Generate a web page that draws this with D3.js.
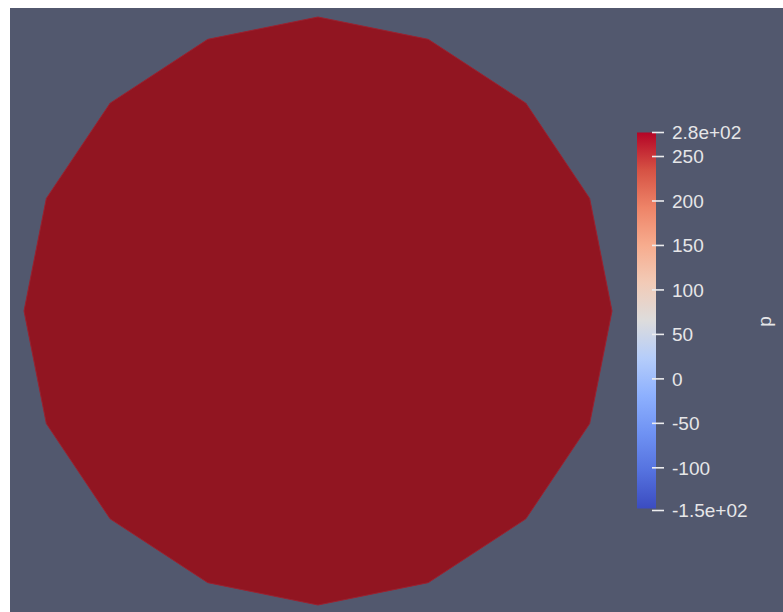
<!DOCTYPE html>
<html>
<head>
<meta charset="utf-8">
<script src="https://cdn.jsdelivr.net/npm/d3@7"></script>
<style>
  html, body { margin: 0; padding: 0; background: #ffffff; }
  svg { display: block; }
  .cb-label { font-family: "Liberation Sans", Arial, sans-serif; font-size: 19px; fill: #e6e6e8; }
</style>
</head>
<body>
<div id="chart"></div>
<script>
// mesh outline of the disc (16 segments), model units
var meshX = [0, 0.375, 0.707, 0.924, 1, 0.924, 0.707, 0.375, 0, -0.375, -0.707, -0.924, -1, -0.924, -0.707, -0.375];
var meshY = [1, 0.924, 0.707, 0.383, 0, -0.383, -0.707, -0.924, -1, -0.924, -0.707, -0.383, 0, 0.383, 0.707, 0.924];

// scalar range of p
var pMin = -148;
var pMax = 277;
var pTicks = [-100, -50, 0, 50, 100, 150, 200, 250];
var endLabels = ["-1.5e+02", "2.8e+02"];
var fieldName = "p";

// Cool to Warm colour map stops
var cmapPos = [0, 0.1, 0.2, 0.3, 0.4, 0.5, 0.6, 0.7, 0.8, 0.9, 1];
var cmapCol = ["#3b4cc0", "#5572df", "#6f92f3", "#8db0fe", "#b5cdfa", "#dddcdc", "#f2cbb7", "#f7ac8e", "#ee8468", "#d65244", "#b40426"];

var W = 783, H = 612;
var svg = d3.select("#chart").append("svg")
  .attr("width", W).attr("height", H);

// render viewport
svg.append("rect")
  .attr("x", 10).attr("y", 8)
  .attr("width", W - 10).attr("height", H - 8)
  .attr("fill", "#52586e");

var x = d3.scaleLinear().domain([-1, 1]).range([24, 612]);
var y = d3.scaleLinear().domain([-1, 1]).range([605, 17]);

var pts = meshX.map(function(d, i) { return [x(d), y(meshY[i])]; });

svg.append("polygon")
  .attr("points", pts.map(function(p) { return p.join(","); }).join(" "))
  .attr("fill", "#911521")
  .attr("stroke", "#9a2230")
  .attr("stroke-width", 1);

// colour legend
var barX = 637, barW = 19;
var cy = d3.scaleLinear().domain([pMin, pMax]).range([510.5, 132.5]);

var defs = svg.append("defs");
var grad = defs.append("linearGradient")
  .attr("id", "cmap")
  .attr("x1", 0).attr("y1", 1).attr("x2", 0).attr("y2", 0);
grad.selectAll("stop")
  .data(cmapPos)
  .enter().append("stop")
  .attr("offset", function(d) { return d; })
  .attr("stop-color", function(d, i) { return cmapCol[i]; });

svg.append("rect")
  .attr("x", barX).attr("y", cy(pMax))
  .attr("width", barW).attr("height", cy(pMin) - cy(pMax) - 2)
  .attr("fill", "url(#cmap)");

var tickVals = [pMin].concat(pTicks).concat([pMax]);
var tickText = [endLabels[0]].concat(pTicks.map(String)).concat([endLabels[1]]);

var tg = svg.append("g").selectAll("g")
  .data(tickVals)
  .enter().append("g")
  .attr("transform", function(d) { return "translate(0," + cy(d) + ")"; });

tg.append("line")
  .attr("x1", 652).attr("x2", 664)
  .attr("stroke", "#ececee").attr("stroke-width", 1.6);

tg.append("text")
  .attr("class", "cb-label")
  .attr("x", 672)
  .attr("dy", "0.36em")
  .text(function(d, i) { return tickText[i]; });

svg.append("text")
  .attr("class", "cb-label")
  .attr("text-anchor", "middle")
  .attr("transform", "translate(767," + ((cy(pMin) + cy(pMax)) / 2) + ") rotate(-90)")
  .attr("dy", "0.2em")
  .text(fieldName);
</script>
</body>
</html>
